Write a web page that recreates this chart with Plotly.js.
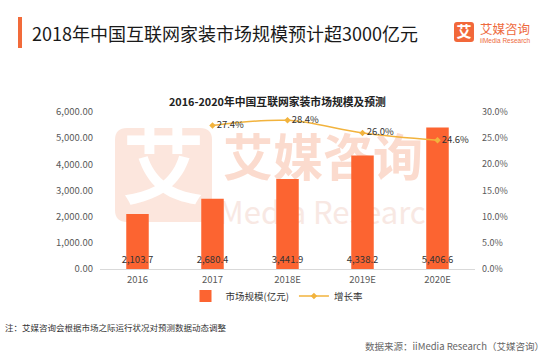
<!DOCTYPE html>
<html><head><meta charset="utf-8">
<script src="https://cdn.plot.ly/plotly-3.0.1.min.js"></script>
<style>html,body{margin:0;padding:0;background:#fff}#chart{width:549px;height:354px}</style>
</head><body><div id="chart"></div>
<script>
const categories = ['2016', '2017', '2018E', '2019E', '2020E'];
const marketSize = [2103.7, 2680.4, 3441.9, 4338.2, 5406.6];
const growthCategories = ['2017', '2018E', '2019E', '2020E'];
const growthRate = [0.274, 0.284, 0.260, 0.246];
const leftTicks = [0, 1000, 2000, 3000, 4000, 5000, 6000];
const rightTicks = [0, 0.05, 0.10, 0.15, 0.20, 0.25, 0.30];
const seriesNames = ['市场规模(亿元)', '增长率'];
const headerTitle = '2018年中国互联网家装市场规模预计超3000亿元';
const chartTitle = '2016-2020年中国互联网家装市场规模及预测';
const noteText = '注：艾媒咨询会根据市场之际运行状况对预测数据动态调整';
const sourceText = '数据来源：iiMedia Research（艾媒咨询）';

const W = 549, H = 354;
const L = 100, R = 475, T = 112, B = 269;
const px = x => (x - L) / (R - L);
const py = y => (B - y) / (B - T);
const FONT = '"Noto Sans CJK SC", "Noto Sans", sans-serif';

function rr(x0, y0, x1, y1, r) {
  const X = v => px(v).toFixed(4), Y = v => py(v).toFixed(4);
  return 'M' + X(x0 + r) + ',' + Y(y0) + ' L' + X(x1 - r) + ',' + Y(y0) +
    ' Q' + X(x1) + ',' + Y(y0) + ' ' + X(x1) + ',' + Y(y0 + r) +
    ' L' + X(x1) + ',' + Y(y1 - r) +
    ' Q' + X(x1) + ',' + Y(y1) + ' ' + X(x1 - r) + ',' + Y(y1) +
    ' L' + X(x0 + r) + ',' + Y(y1) +
    ' Q' + X(x0) + ',' + Y(y1) + ' ' + X(x0) + ',' + Y(y1 - r) +
    ' L' + X(x0) + ',' + Y(y0 + r) +
    ' Q' + X(x0) + ',' + Y(y0) + ' ' + X(x0 + r) + ',' + Y(y0) + ' Z';
}
function textBox(x0, y0, x1, y1, text, size, color, layer, weight) {
  return {type: 'rect', xref: 'paper', yref: 'paper', layer: layer || 'below',
    x0: px(x0), x1: px(x1), y0: py(y1), y1: py(y0),
    line: {width: 0}, fillcolor: 'rgba(0,0,0,0)',
    label: {text: text, textposition: 'middle center',
      font: {family: FONT, size: size, color: color, weight: weight || 'normal'}}};
}

const traces = [
  {
    type: 'bar', name: seriesNames[0], x: categories, y: marketSize,
    marker: {color: '#fc6431'}, width: 0.3,
    text: marketSize.map(v => v.toLocaleString('en-US', {minimumFractionDigits: 1, maximumFractionDigits: 1})),
    textposition: 'inside', insidetextanchor: 'start', textangle: 0, constraintext: 'none',
    textfont: {family: FONT, size: 9.5, color: '#333333'},
    hoverinfo: 'x+y'
  },
  {
    type: 'scatter', name: seriesNames[1], x: growthCategories, y: growthRate, yaxis: 'y2',
    mode: 'lines+markers+text', line: {color: '#f2b33d', width: 1.5, shape: 'spline'},
    marker: {color: '#f2b33d', size: 5, symbol: 'diamond'},
    text: growthRate.map(v => (v * 100).toFixed(1) + '%'),
    textposition: 'middle right',
    textfont: {family: FONT, size: 9.5, color: '#333333'}
  }
];

const shapes = [
  {type: 'rect', xref: 'paper', yref: 'paper', layer: 'above',
   x0: px(18), x1: px(22), y0: py(48), y1: py(17), line: {width: 0}, fillcolor: '#f26b3a'},
  {type: 'path', xref: 'paper', yref: 'paper', layer: 'above', path: rr(454, 22, 474, 42, 3),
   line: {width: 0}, fillcolor: '#f2683a',
   label: {text: '艾', textposition: 'middle center', font: {family: FONT, size: 15, color: '#ffffff', weight: 'bold'}}},
  {type: 'path', xref: 'paper', yref: 'paper', layer: 'below', path: rr(115, 128, 212, 222, 12),
   line: {width: 0}, fillcolor: '#fce6dd',
   label: {text: '艾', textposition: 'middle center', font: {family: FONT, size: 82, color: '#ffffff', weight: 'bold'}}},
  textBox(218, 132, 428, 192, '艾媒咨询', 50, '#fbdbce', 'below', 'bold'),
  textBox(218, 197, 428, 234, 'iiMedia Research', 31, '#f8e8e3', 'below')
];

const annotations = [
  {xref: 'paper', yref: 'paper', x: px(30), y: py(33), xanchor: 'left', yanchor: 'middle', showarrow: false,
   text: headerTitle, font: {family: FONT, size: 18, color: '#1a1a1a'}},
  {xref: 'paper', yref: 'paper', x: px(478), y: py(28.5), xanchor: 'left', yanchor: 'middle', showarrow: false,
   text: '艾媒咨询', font: {family: FONT, size: 12.5, color: '#ee6a3d'}},
  {xref: 'paper', yref: 'paper', x: px(478), y: py(40.5), xanchor: 'left', yanchor: 'middle', showarrow: false,
   text: 'iiMedia Research', font: {family: 'Arial, sans-serif', size: 6.5, color: '#ee6a3d'}},
  {xref: 'paper', yref: 'paper', x: px(277), y: py(101), xanchor: 'center', yanchor: 'middle', showarrow: false,
   text: '<b>' + chartTitle + '</b>', font: {family: FONT, size: 10.8, color: '#222222'}},
  {xref: 'paper', yref: 'paper', x: px(3), y: py(327), xanchor: 'left', yanchor: 'middle', showarrow: false,
   text: noteText, font: {family: FONT, size: 8.5, color: '#333333'}},
  {xref: 'paper', yref: 'paper', x: px(546), y: py(346), xanchor: 'right', yanchor: 'middle', showarrow: false,
   text: sourceText, font: {family: FONT, size: 9.5, color: '#666666'}}
];

const layout = {
  width: W, height: H,
  margin: {l: L, r: W - R, t: T, b: H - B, pad: 0},
  paper_bgcolor: '#ffffff', plot_bgcolor: 'rgba(0,0,0,0)',
  font: {family: FONT, size: 9.5, color: '#595959'},
  showlegend: true,
  legend: {orientation: 'h', x: px(277), xanchor: 'center', y: py(296), yanchor: 'middle',
           font: {family: FONT, size: 9.5, color: '#333333'}, bgcolor: 'rgba(0,0,0,0)', traceorder: 'normal'},
  xaxis: {type: 'category', categoryarray: categories, range: [-0.5, 4.5],
          showline: true, linecolor: '#d9d9d9', linewidth: 1, showgrid: false, zeroline: false,
          ticks: '', tickfont: {family: FONT, size: 9.5, color: '#595959'}, ticklabelstandoff: 2},
  yaxis: {range: [0, 6000], tickvals: leftTicks, ticktext: leftTicks.map(v => v.toLocaleString('en-US', {minimumFractionDigits: 2, maximumFractionDigits: 2})),
          showgrid: false, zeroline: false, showline: false, ticks: '',
          tickfont: {family: FONT, size: 9.5, color: '#595959'}, ticklabelstandoff: 6},
  yaxis2: {overlaying: 'y', side: 'right', range: [0, 0.30], tickvals: rightTicks,
           ticktext: rightTicks.map(v => (v * 100).toFixed(1) + '%'),
           showgrid: false, zeroline: false, showline: false, ticks: '',
           tickfont: {family: FONT, size: 9, color: '#595959'}, ticklabelstandoff: 6},
  bargap: 0.7,
  shapes: shapes,
  annotations: annotations
};

Plotly.newPlot('chart', traces, layout, {displayModeBar: false, staticPlot: true});
</script>
</body></html>
